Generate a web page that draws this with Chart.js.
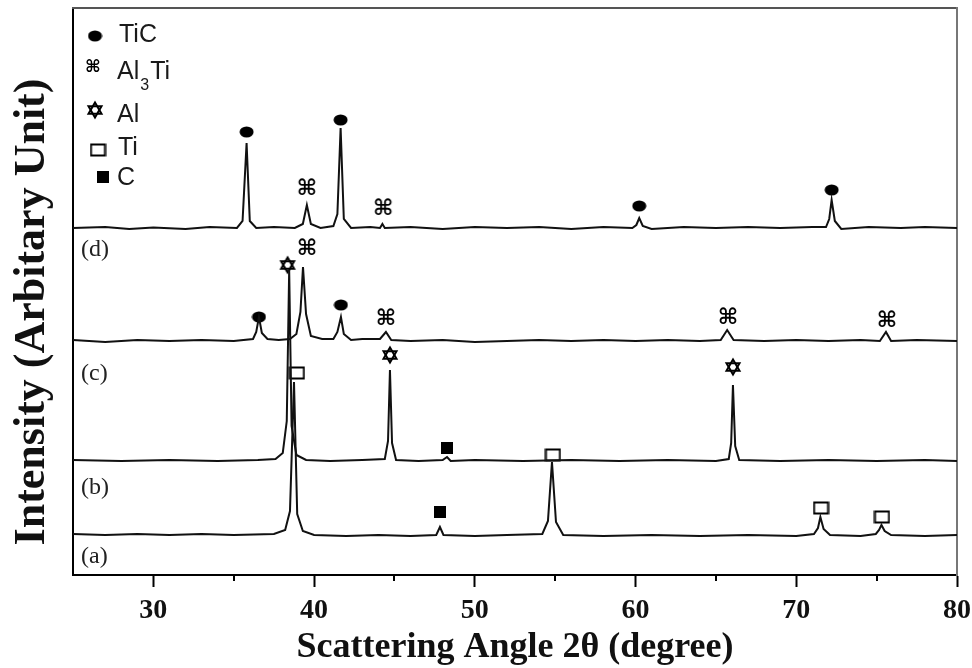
<!DOCTYPE html>
<html>
<head>
<meta charset="utf-8">
<script src="https://cdn.jsdelivr.net/npm/chart.js@4.4.1/dist/chart.umd.min.js"></script>
<style>
  html, body { margin: 0; padding: 0; background: #fff; }
</style>
</head>
<body>
<canvas id="xrd" width="972" height="668"></canvas>
<script>
// readings off the patterns: [2theta, intensity above that pattern's baseline]
const patternA = [
    [25, 2], [27, 1], [29, 2], [31, 1], [33, 2], [35, 1], [37.5, 2], [38.2, 6], [38.5, 25],
    [38.75, 154], [38.95, 22], [39.3, 5], [40, 1], [42, 0], [44, 1], [46, 0], [47.6, 1],
    [47.83, 9], [48.05, 1], [50, 0], [52, 1], [54.2, 2], [54.55, 15], [54.8, 74], [55.05, 14],
    [55.5, 1], [58, 0], [61, 1], [64, 0], [67, 1], [70, 0], [71.1, 2], [71.35, 8], [71.5, 19],
    [71.7, 7], [72.1, 1], [74, 0], [74.95, 2], [75.15, 6], [75.3, 11], [75.5, 5], [75.9, 1],
    [78, 0], [80, 1]
]
const patternB = [
    [25, 1], [28, 0], [31, 1], [34, 0], [36.5, 1], [37.6, 2], [38.05, 8], [38.3, 40],
    [38.45, 191], [38.6, 35], [38.9, 6], [39.5, 1], [41, 0], [43, 1], [44.4, 2], [44.6, 20],
    [44.72, 91], [44.85, 18], [45.1, 1], [46.5, 0], [48, 1], [48.27, 4], [48.5, 0], [50, 1],
    [53, 0], [56, 1], [59, 0], [62, 1], [65, 0], [65.8, 2], [65.95, 18], [66.06, 76],
    [66.2, 15], [66.45, 1], [69, 0], [72, 1], [75, 0], [78, 1], [80, 0]
]
const patternC = [
    [25, 2], [27, 0], [29, 2], [31, 1], [33, 2], [35, 1], [36.2, 3], [36.4, 10], [36.57, 25],
    [36.75, 9], [37.1, 3], [37.8, 2], [38.5, 3], [38.9, 8], [39.15, 30], [39.31, 75],
    [39.5, 28], [39.8, 6], [40.5, 3], [41.2, 3], [41.45, 10], [41.67, 25], [41.85, 8],
    [42.3, 2], [43, 3], [44.1, 3], [44.47, 10], [44.8, 2], [46, 1], [48, 2], [50, 0], [52, 1],
    [54, 2], [56, 1], [58, 2], [60, 1], [62, 2], [64, 1], [65.3, 2], [65.7, 12], [66.1, 2],
    [68, 1], [70, 2], [72, 1], [74, 2], [75.2, 1], [75.58, 10], [75.9, 1], [77.5, 2], [80, 1]
]
const patternD = [
    [25, 1], [27, 2], [28.5, 0], [30, 1.5], [32, 0], [33.5, 2], [35.2, 1], [35.55, 8],
    [35.8, 86], [36.0, 8], [36.4, 1], [37.5, 2], [38.8, 1], [39.3, 5], [39.55, 24], [39.8, 5],
    [40.4, 1], [41.2, 3], [41.45, 15], [41.65, 101], [41.85, 10], [42.3, 1], [43.5, 2],
    [44.1, 1], [44.25, 5], [44.4, 1], [46, 2], [48, 0], [50, 2], [52, 1], [54, 2], [56, 0],
    [58, 2], [59.8, 1], [60.05, 4], [60.23, 11], [60.45, 3], [61, 0], [63, 2], [65, 1],
    [67, 2], [69, 1], [71, 2], [71.85, 2], [72.05, 10], [72.2, 29], [72.4, 8], [72.8, 0],
    [74.5, 2], [76.5, 1], [78, 2], [80, 1]
]
const patterns = [patternA, patternB, patternC, patternD]
const patternNames = ['(a)', '(b)', '(c)', '(d)']
const patternOffsets = [39, 114, 233, 346]

// phase markers: [2theta, intensity]
const ticMarks = [[35.8, 443], [41.65, 455], [60.23, 369], [72.2, 385], [36.57, 258], [41.67, 270]]
const al3tiMarks = [[39.55, 387], [44.3, 367], [39.56, 327], [44.47, 257], [65.75, 258], [75.64, 255]]
const alMarks = [[38.35, 310], [44.72, 220], [66.06, 208]]
const tiMarks = [[38.93, 202], [54.86, 120], [71.54, 67], [75.33, 58]]
const cMarks = [[48.27, 127], [47.83, 63]]

const xTickLabels = [30, 40, 50, 60, 70, 80]
const xMinorTicks = [35, 45, 55, 65, 75]

// marker images
function makeCanvas(w, h, draw) {
    const c = document.createElement('canvas')
    c.width = w
    c.height = h
    const g = c.getContext('2d')
    g.fillStyle = '#000'
    g.strokeStyle = '#000'
    draw(g)
    return c
}
function hexagram(g, cx, cy, r) {
    g.lineWidth = 2
    g.lineJoin = 'miter'
    for (const start of [-Math.PI / 2, Math.PI / 2]) {
        g.beginPath()
        for (let k = 0; k < 3; k++) {
            const a = start + k * 2 * Math.PI / 3
            const px = cx + r * Math.cos(a)
            const py = cy + r * Math.sin(a)
            if (k === 0) g.moveTo(px, py)
            else g.lineTo(px, py)
        }
        g.closePath()
        g.stroke()
    }
}
const ticImg = makeCanvas(15, 12, g => { g.beginPath(); g.ellipse(7.5, 6, 7, 5.5, 0, 0, Math.PI * 2); g.fill() })
const al3tiImg = makeCanvas(24, 24, g => {
    g.font = 'bold 22px "DejaVu Sans"'
    g.textAlign = 'center'
    g.textBaseline = 'middle'
    g.fillText('\u2318', 12, 13)
})
const alImg = makeCanvas(20, 20, g => hexagram(g, 10, 10, 7.5))
const tiImg = makeCanvas(17, 14, g => { g.lineWidth = 2; g.strokeRect(1.5, 1.5, 14, 11) })
const cImg = makeCanvas(12, 12, g => { g.fillRect(0, 0, 12, 12) })
const al3tiSmall = makeCanvas(18, 18, g => {
    g.font = 'bold 17px "DejaVu Sans"'
    g.textAlign = 'center'
    g.textBaseline = 'middle'
    g.fillText('\u2318', 9, 10)
})

const markerSets = [
    { label: 'TiC', marks: ticMarks, img: ticImg },
    { label: 'Al3Ti', marks: al3tiMarks, img: al3tiImg },
    { label: 'Al', marks: alMarks, img: alImg },
    { label: 'Ti', marks: tiMarks, img: tiImg },
    { label: 'C', marks: cMarks, img: cImg }
]

const datasets = []
patterns.forEach((pts, i) => {
    datasets.push({
        label: patternNames[i],
        data: pts.map(p => ({ x: p[0], y: p[1] + patternOffsets[i] })),
        showLine: true,
        borderColor: '#111',
        borderWidth: 2,
        pointRadius: 0,
        tension: 0
    })
})
markerSets.forEach(m => {
    datasets.push({
        label: m.label,
        data: m.marks.map(p => ({ x: p[0], y: p[1] })),
        showLine: false,
        pointStyle: m.img,
        pointRadius: 6
    })
})

const serif = '"Liberation Serif", "Times New Roman", serif'
const sans = '"Liberation Sans", Arial, sans-serif'

// y title, legend box, pattern labels and minor ticks
const annotations = {
    id: 'annotations',
    afterDraw(chart) {
        const ctx = chart.ctx
        const xs = chart.scales.x
        const area = chart.chartArea
        ctx.save()

        ctx.strokeStyle = '#000'
        ctx.lineWidth = 2
        xMinorTicks.forEach(v => {
            const px = Math.round(xs.getPixelForValue(v))
            ctx.beginPath()
            ctx.moveTo(px, area.bottom)
            ctx.lineTo(px, area.bottom + 6)
            ctx.stroke()
        })

        ctx.save()
        ctx.translate(33, 312)
        ctx.rotate(-Math.PI / 2)
        ctx.fillStyle = '#111'
        ctx.font = 'bold 44px ' + serif
        ctx.textAlign = 'center'
        ctx.textBaseline = 'middle'
        ctx.fillText('Intensity (Arbitary Unit)', 0, 0)
        ctx.restore()

        ctx.fillStyle = '#222'
        ctx.font = '24px ' + serif
        ctx.textBaseline = 'middle'
        const nameY = [557, 488, 374, 250]
        patternNames.forEach((n, i) => ctx.fillText(n, 81, nameY[i]))

        const rows = [
            { img: ticImg, x: 95, y: 36, text: 'TiC', tx: 119, ty: 35 },
            { img: al3tiSmall, x: 93, y: 67, text: 'Al', sub: '3', after: 'Ti', tx: 117, ty: 72 },
            { img: alImg, x: 95, y: 110, text: 'Al', tx: 117, ty: 115 },
            { img: tiImg, x: 98, y: 150, text: 'Ti', tx: 118, ty: 148 },
            { img: cImg, x: 103, y: 177, text: 'C', tx: 117, ty: 178 }
        ]
        ctx.fillStyle = '#1a1a1a'
        rows.forEach(r => {
            ctx.drawImage(r.img, r.x - r.img.width / 2, r.y - r.img.height / 2)
            ctx.font = '25px ' + sans
            ctx.fillText(r.text, r.tx, r.ty)
            if (r.sub) {
                let x = r.tx + ctx.measureText(r.text).width + 1
                ctx.font = '16px ' + sans
                ctx.fillText(r.sub, x, r.ty + 14)
                x += ctx.measureText(r.sub).width + 1
                ctx.font = '25px ' + sans
                ctx.fillText(r.after, x, r.ty)
            }
        })
        ctx.restore()
    }
}

new Chart(document.getElementById('xrd'), {
    type: 'scatter',
    data: { datasets },
    options: {
        responsive: false,
        animation: false,
        events: [],
        layout: { padding: { top: 8, right: 15, left: 0, bottom: 0 } },
        plugins: {
            legend: { display: false },
            tooltip: { enabled: false }
        },
        scales: {
            x: {
                type: 'linear',
                position: 'bottom',
                min: 25,
                max: 80,
                afterFit: s => { s.height = 93; s.paddingLeft = 0; s.paddingRight = 0 },
                ticks: {
                    stepSize: 5,
                    autoSkip: false,
                    maxRotation: 0,
                    padding: 7,
                    color: '#111',
                    font: { family: serif, size: 28, weight: 'bold' },
                    callback: v => xTickLabels.includes(v) ? v : ''
                },
                grid: {
                    drawOnChartArea: false,
                    drawTicks: true,
                    tickLength: 12,
                    tickWidth: 2,
                    tickColor: c => xTickLabels.includes(c.tick.value) ? '#000' : 'rgba(0,0,0,0)'
                },
                border: { color: '#000', width: 2 },
                title: {
                    display: true,
                    text: 'Scattering Angle 2\u03b8 (degree)',
                    color: '#111',
                    font: { family: serif, size: 36, weight: 'bold', lineHeight: 1 },
                    padding: { top: 0, bottom: 2 }
                }
            },
            y: {
                type: 'linear',
                position: 'left',
                min: 0,
                max: 567,
                afterFit: s => { s.width = 73 },
                ticks: { display: false },
                grid: { drawOnChartArea: false, drawTicks: false },
                border: { color: '#000', width: 2 },
                title: { display: false }
            },
            xTop: {
                type: 'linear',
                position: 'top',
                afterFit: s => { s.height = 0 },
                ticks: { display: false },
                grid: { drawOnChartArea: false, drawTicks: false },
                border: { color: '#555', width: 2 }
            },
            yRight: {
                type: 'linear',
                position: 'right',
                afterFit: s => { s.width = 0 },
                ticks: { display: false },
                grid: { drawOnChartArea: false, drawTicks: false },
                border: { color: '#777', width: 2 }
            }
        }
    },
    plugins: [annotations]
})
</script>
</body>
</html>
